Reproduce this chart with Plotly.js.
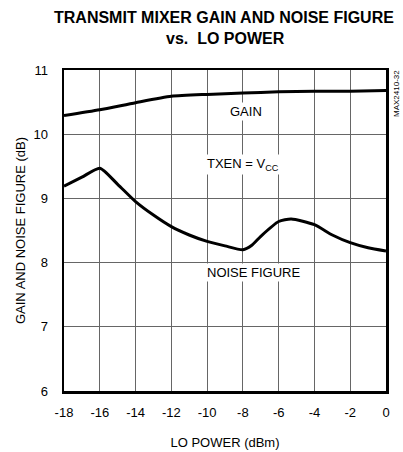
<!DOCTYPE html>
<html><head><meta charset="utf-8">
<script src="https://cdn.plot.ly/plotly-3.0.1.min.js"></script>
<style>html,body{margin:0;padding:0;background:#fff}#c{width:403px;height:452px}</style>
</head><body><div id="c"></div>
<script>
var gainX = [-18, -16, -14, -12, -10, -8, -6, -4, -2, 0];
var gainY = [10.29, 10.38, 10.49, 10.59, 10.62, 10.64, 10.66, 10.67, 10.67, 10.68];
var nfX = [-18, -17, -16, -15, -14, -13, -12, -11, -10, -9, -8, -7.5, -7, -6, -5.3, -4, -3, -2, -1, 0];
var nfY = [9.19, 9.33, 9.47, 9.22, 8.95, 8.74, 8.56, 8.43, 8.33, 8.26, 8.20, 8.27, 8.41, 8.64, 8.68, 8.59, 8.43, 8.31, 8.23, 8.18];
var xTicks = [-18, -16, -14, -12, -10, -8, -6, -4, -2, 0];
var yTicks = [6, 7, 8, 9, 10, 11];
var FONT = "Liberation Sans, Arial, Helvetica, sans-serif";
var traces = [
  {x: gainX, y: gainY, mode: 'lines', line: {color: '#000', width: 3, shape: 'spline', smoothing: 0.6}, hoverinfo: 'none'},
  {x: nfX, y: nfY, mode: 'lines', line: {color: '#000', width: 3, shape: 'spline', smoothing: 0.6}, hoverinfo: 'none'}
];
var pw = 403 - 64 - 17, ph = 452 - 70 - 61;
function px(xp){ return (xp - 64) / pw; }
function py(yp){ return (452 - 61 - yp) / ph; }
var layout = {
  width: 403, height: 452,
  margin: {l: 64, r: 17, t: 70, b: 61},
  paper_bgcolor: '#fff', plot_bgcolor: '#fff',
  showlegend: false,
  font: {family: FONT, size: 13, color: '#000'},
  xaxis: {range: [-18, 0], tickvals: xTicks, ticktext: xTicks.map(String), showgrid: true, gridcolor: '#666', gridwidth: 1,
    zeroline: false, showline: true, mirror: true, linecolor: '#000', linewidth: 2.5, ticks: '', ticklabelstandoff: 8,
    title: {text: 'LO POWER (dBm)', standoff: 19, font: {family: FONT, size: 13}}, fixedrange: true},
  yaxis: {range: [6, 11], tickvals: yTicks, showgrid: true, gridcolor: '#666', gridwidth: 1,
    zeroline: false, showline: true, mirror: true, linecolor: '#000', linewidth: 2.5, ticks: '', ticklabelstandoff: 11,
    title: {text: 'GAIN AND NOISE FIGURE (dB)', standoff: 5, font: {family: FONT, size: 13}}, fixedrange: true},
  annotations: [
    {x: px(224), y: py(17.5), xref: 'paper', yref: 'paper', xanchor: 'center', yanchor: 'middle', text: '<b>TRANSMIT MIXER GAIN AND NOISE FIGURE</b>', showarrow: false, font: {family: FONT, size: 16}},
    {x: px(226), y: py(38), xref: 'paper', yref: 'paper', xanchor: 'center', yanchor: 'middle', text: '<b>vs.  LO POWER</b>', showarrow: false, font: {family: FONT, size: 16}},
    {x: -7.8, y: 10.35, xref: 'x', yref: 'y', text: 'GAIN', showarrow: false, bgcolor: '#fff', font: {family: FONT, size: 13}},
    {x: -8.0, y: 9.53, xref: 'x', yref: 'y', text: 'TXEN = V<sub>CC</sub>', showarrow: false, bgcolor: '#fff', font: {family: FONT, size: 13}},
    {x: -7.4, y: 7.85, xref: 'x', yref: 'y', text: 'NOISE FIGURE', showarrow: false, bgcolor: '#fff', font: {family: FONT, size: 13}},
    {x: 1, y: 1, xref: 'paper', yref: 'paper', xanchor: 'left', yanchor: 'top', xshift: 4, yshift: 2, text: 'MAX2410-32', textangle: -90, showarrow: false, font: {family: FONT, size: 8}}
  ]
};
Plotly.newPlot('c', traces, layout, {displayModeBar: false, staticPlot: true});
</script></body></html>
